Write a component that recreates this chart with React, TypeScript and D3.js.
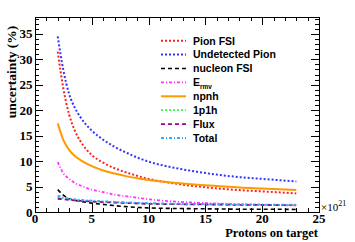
import React from 'react';
import * as d3 from 'd3';

const pot = [2, 2.5, 3, 3.5, 4, 5, 6, 7, 8, 9, 10, 12, 14, 16, 18, 20, 23];

const pionFsi = [31.5, 24.2, 19.2, 16.0, 13.9, 11.2, 9.7, 8.6, 7.8, 7.1, 6.5, 5.7, 5.1, 4.65, 4.3, 4.05, 3.65];
const undetectedPion = [34.5, 27.8, 23.2, 20.5, 18.6, 16.0, 14.2, 12.8, 11.7, 10.7, 9.9, 8.8, 8.0, 7.35, 6.85, 6.5, 6.0];
const nucleonFsi = [4.4, 3.3, 2.6, 2.3, 2.1, 1.75, 1.5, 1.25, 1.05, 0.9, 0.8, 0.7, 0.65, 0.6, 0.55, 0.55, 0.5];
const ermv = [9.8, 7.6, 6.5, 5.7, 5.2, 4.4, 3.9, 3.4, 3.1, 2.8, 2.5, 2.1, 1.85, 1.65, 1.5, 1.4, 1.3];
const npnh = [17.4, 14.1, 12.2, 11.0, 10.2, 9.0, 8.15, 7.55, 7.05, 6.65, 6.3, 5.8, 5.4, 5.1, 4.8, 4.6, 4.3];
const p1h = [3.0, 2.7, 2.5, 2.35, 2.25, 2.1, 2.0, 1.9, 1.8, 1.7, 1.65, 1.55, 1.5, 1.45, 1.4, 1.38, 1.35];
const flux = [2.6, 2.5, 2.4, 2.3, 2.2, 2.05, 1.95, 1.85, 1.75, 1.7, 1.6, 1.55, 1.5, 1.45, 1.4, 1.38, 1.35];
const total = [3.2, 2.85, 2.65, 2.5, 2.4, 2.25, 2.12, 2.0, 1.9, 1.82, 1.75, 1.65, 1.6, 1.55, 1.5, 1.47, 1.45];

const xTicks = [0, 5, 10, 15, 20, 25];
const yTicks = [0, 5, 10, 15, 20, 25, 30, 35];

interface Series {
  name: string;
  values: number[];
  color: string;
  dash: string;
  width: number;
}

const series: Series[] = [
  { name: 'Pion FSI', values: pionFsi, color: '#ff2222', dash: '2,2', width: 2 },
  { name: 'Undetected Pion', values: undetectedPion, color: '#3333ff', dash: '2,2', width: 2 },
  { name: 'nucleon FSI', values: nucleonFsi, color: '#000000', dash: '4,3', width: 1.6 },
  { name: 'Ermv', values: ermv, color: '#ff33ff', dash: '3,2,1,2', width: 1.8 },
  { name: 'npnh', values: npnh, color: '#ff9900', dash: '', width: 2 },
  { name: '1p1h', values: p1h, color: '#44ee44', dash: '2,2', width: 1.8 },
  { name: 'Flux', values: flux, color: '#990099', dash: '4,3', width: 1.8 },
  { name: 'Total', values: total, color: '#33aaff', dash: '3,2,1,2', width: 1.8 },
];

const W = 355;
const H = 242;
const left = 35;
const right = 319;
const top = 17;
const bottom = 212;

const serif = '"Liberation Serif", "Times New Roman", serif';
const sans = '"Liberation Sans", Arial, sans-serif';

export default function App() {
  const x = d3.scaleLinear().domain([0, 25]).range([left, right]);
  const y = d3.scaleLinear().domain([0, 38.3]).range([bottom, top]);

  const line = d3
    .line<number>()
    .x((_d, i) => x(pot[i]))
    .y((d) => y(d))
    .curve(d3.curveMonotoneX);

  const xMinor = d3.range(0, 25.01, 1);
  const yMinor = d3.range(0, 38.01, 1);

  return (
    <svg width={W} height={H} style={{ position: 'fixed', left: 0, top: 0, background: '#fff' }}>
      {/* ticks, inward on all four sides */}
      <g stroke="#000" strokeWidth={1}>
        {xMinor.map((v) => {
          const len = v % 5 === 0 ? 8 : 4;
          const px = Math.round(x(v)) + 0.5;
          return (
            <g key={'x' + v}>
              <line x1={px} x2={px} y1={bottom} y2={bottom - len} />
              <line x1={px} x2={px} y1={top} y2={top + len} />
            </g>
          );
        })}
        {yMinor.map((v) => {
          const len = v % 5 === 0 ? 8 : 4;
          const py = Math.round(y(v)) + 0.5;
          return (
            <g key={'y' + v}>
              <line x1={left} x2={left + len} y1={py} y2={py} />
              <line x1={right} x2={right - len} y1={py} y2={py} />
            </g>
          );
        })}
      </g>

      {series.map((s) => (
        <path
          key={s.name}
          d={line(s.values) || ''}
          fill="none"
          stroke={s.color}
          strokeWidth={s.width}
          strokeDasharray={s.dash || undefined}
        />
      ))}

      <rect x={left + 0.5} y={top + 0.5} width={right - left} height={bottom - top} fill="none" stroke="#000" strokeWidth={1} />

      {/* tick labels */}
      {xTicks.map((v) => (
        <text key={'xl' + v} x={x(v)} y={223} textAnchor="middle" fontFamily={serif} fontWeight="bold" fontSize={13}>
          {v}
        </text>
      ))}
      {yTicks.map((v) => (
        <text key={'yl' + v} x={32.5} y={y(v) + 4.5} textAnchor="end" fontFamily={serif} fontWeight="bold" fontSize={13}>
          {v}
        </text>
      ))}

      <text
        transform={`translate(16, 72) rotate(-90)`}
        textAnchor="middle"
        fontFamily={serif}
        fontWeight="bold"
        fontSize={13.5}
      >
        uncertainty (%)
      </text>
      <text x={318} y={237} textAnchor="end" fontFamily={serif} fontWeight="bold" fontSize={12.5}>
        Protons on target
      </text>
      <text x={321} y={211} fontFamily={serif} fontSize={11}>
        ×10<tspan dy={-5} fontSize={8}>21</tspan>
      </text>

      {/* legend */}
      {series.map((s, i) => {
        const ry = 40.7 + i * 13.9;
        return (
          <g key={'lg' + s.name}>
            <line x1={161} x2={186} y1={ry} y2={ry} stroke={s.color} strokeWidth={s.width} strokeDasharray={s.dash || undefined} />
            <text x={193} y={ry + 3.8} fontFamily={sans} fontWeight="bold" fontSize={10.5}>
              {s.name === 'Ermv' ? (
                <>
                  E<tspan fontSize={6.5} dy={2.5}>rmv</tspan>
                </>
              ) : (
                s.name
              )}
            </text>
          </g>
        );
      })}
    </svg>
  );
}
